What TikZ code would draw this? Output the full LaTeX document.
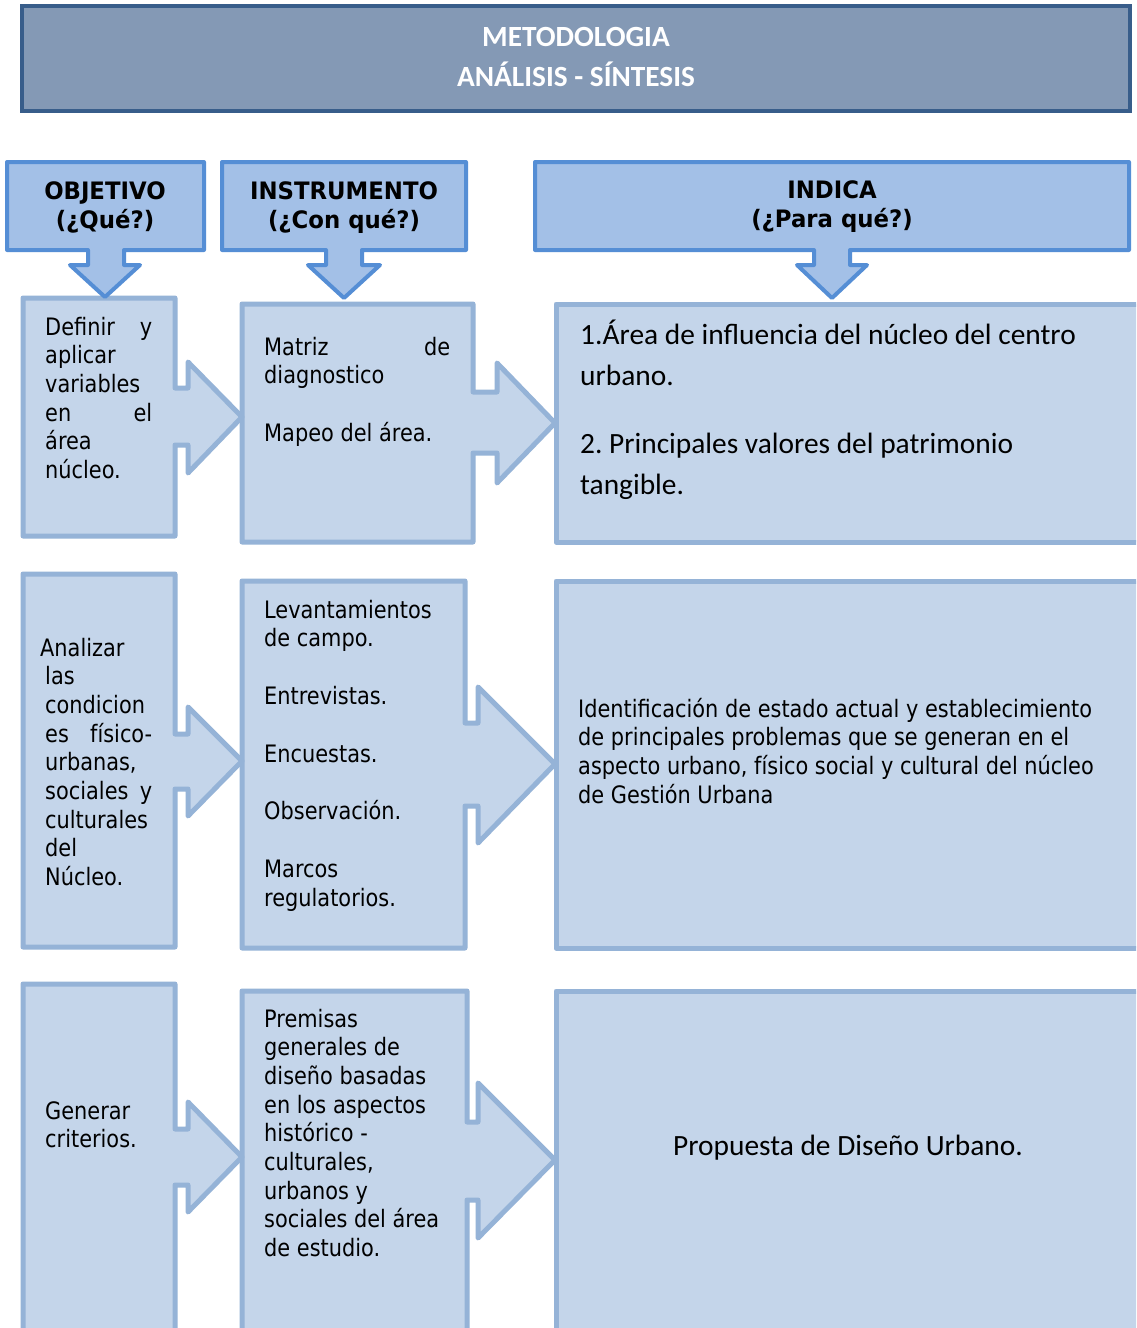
\documentclass[tikz,border=0pt]{standalone}
\usepackage{fontspec}
\setmainfont[FakeStretch=0.87]{DejaVu Sans}
\newfontfamily\capfont[FakeStretch=0.95]{DejaVu Sans}
\newfontfamily\calib{Carlito}
\definecolor{hdrfill}{HTML}{8499B5}
\definecolor{hdrline}{HTML}{385D8A}
\definecolor{capfill}{HTML}{A3C0E7}
\definecolor{capline}{HTML}{558ED5}
\definecolor{boxfill}{HTML}{C4D5EA}
\definecolor{boxline}{HTML}{95B3D7}
\frenchspacing
\newcommand\bodyfont{\fontsize{24}{28.7}\selectfont}
\newcommand\calfont{\calib\fontsize{29.4}{41}\selectfont}
\newcommand\blk[2]{\parbox[t]{#1}{\raggedright #2}}
\begin{document}
\begin{tikzpicture}[x=1pt,y=-1pt,
  hdr/.style={fill=hdrfill,draw=hdrline,line width=4.5pt},
  callout/.style={fill=capfill,draw=capline,line width=4pt,line join=round},
  stage/.style={fill=boxfill,draw=boxline,line width=5pt,line join=round},
  txt/.style={inner sep=0pt,font=\bodyfont,text=black},
  captxt/.style={inner sep=0pt,font=\capfont\bfseries\fontsize{24}{28.7}\selectfont,text=black,anchor=base},
  caltxt/.style={inner sep=0pt,font=\calfont,text=black}]
\useasboundingbox (0,0) rectangle (1136,1328);
\clip (0,0) rectangle (1136,1328);
\fill[white] (0,0) rectangle (1136,1328);

% header
\draw[hdr] (22,6) rectangle (1130,111);
\node[inner sep=0pt,anchor=base,text=white,font=\calib\bfseries\fontsize{29.3}{40}\selectfont] (h1) at (576,46) {METODOLOGIA};
\node[inner sep=0pt,anchor=base,text=white,font=\calib\bfseries\fontsize{29.3}{40}\selectfont] (h2) at (576,86) {ANÁLISIS - SÍNTESIS};

% row 3 (bottom)
\draw[stage] (556,991) -- (1150,991) -- (1150,1340) -- (556,1340) -- cycle;
\draw[stage] (242,991) -- (467,991) -- (467,1122) -- (478,1122) -- (478,1083) -- (555,1160) -- (478,1238) -- (478,1200) -- (467,1200) -- (467,1340) -- (242,1340) -- cycle;
\draw[stage] (23,984) -- (175,984) -- (175,1129) -- (188,1129) -- (188,1102) -- (242,1157) -- (188,1212) -- (188,1185) -- (175,1185) -- (175,1340) -- (23,1340) -- cycle;

% row 2
\draw[stage] (556,581) -- (1150,581) -- (1150,948) -- (556,948) -- cycle;
\draw[stage] (242,581) -- (465,581) -- (465,723) -- (478,723) -- (478,687) -- (555,764) -- (478,843) -- (478,806) -- (465,806) -- (465,948) -- (242,948) -- cycle;
\draw[stage] (23,574) -- (175,574) -- (175,734) -- (188,734) -- (188,707) -- (242,761) -- (188,816) -- (188,789) -- (175,789) -- (175,947) -- (23,947) -- cycle;

% row 1
\draw[stage] (556,304) -- (1150,304) -- (1150,542) -- (556,542) -- cycle;
\draw[stage] (242,304) -- (473,304) -- (473,392) -- (497,392) -- (497,363) -- (555,423) -- (497,483) -- (497,453) -- (473,453) -- (473,542) -- (242,542) -- cycle;
\draw[stage] (23,298) -- (175,298) -- (175,388) -- (188,388) -- (188,362) -- (242,417) -- (188,473) -- (188,445) -- (175,445) -- (175,536) -- (23,536) -- cycle;

% column headers (down-arrow callouts)
\draw[callout] (7,162) -- (204,162) -- (204,250) -- (124,250) -- (124,265) -- (140,265) -- (105,297) -- (70,265) -- (88,265) -- (88,250) -- (7,250) -- cycle;
\draw[callout] (222,162) -- (466,162) -- (466,250) -- (362,250) -- (362,265) -- (380,265) -- (344,298) -- (308,265) -- (326,265) -- (326,250) -- (222,250) -- cycle;
\draw[callout] (535,162) -- (1129,162) -- (1129,250) -- (850,250) -- (850,265) -- (867,265) -- (832,298) -- (797,265) -- (814,265) -- (814,250) -- (535,250) -- cycle;

\node[captxt] (o1) at (105,199) {OBJETIVO};
\node[captxt] (o2) at (105,228) {(¿Qué?)};
\node[captxt] (i1) at (344,199) {INSTRUMENTO};
\node[captxt] (i2) at (344,228) {(¿Con qué?)};
\node[captxt] (p1) at (832,198) {INDICA};
\node[captxt] (p2) at (832,227) {(¿Para qué?)};

% row 1 texts
\node[txt,anchor=base west] (a1) at (45,335) {\blk{107pt}{Definir\hfill y\\aplicar\\variables\\en\hfill el\\área\\núcleo.}};
\node[txt,anchor=base west] (b1) at (264,355) {\blk{186pt}{Matriz\hfill de\\diagnostico\\[28.7pt]Mapeo del área.}};
\node[caltxt,anchor=base west] (c1) at (580,344) {\blk{545pt}{1.Área de influencia del núcleo del centro\\urbano.\\[27pt]2. Principales valores del patrimonio\\tangible.}};

% row 2 texts
\node[txt,anchor=base west] (a2) at (45,656) {\blk{107pt}{\hspace*{-5pt}Analizar\\las\\condicion\\es\hfill físico-\\urbanas,\\sociales\hfill y\\culturales\\del\\Núcleo.}};
\node[txt,anchor=base west] (b2) at (264,618) {\blk{190pt}{Levantamientos\\de campo.\\[29pt]Entrevistas.\\[29pt]Encuestas.\\[29pt]Observación.\\[29pt]Marcos\\regulatorios.}};
\node[txt,anchor=base west] (c2) at (578,717) {\blk{540pt}{Identificación de estado actual y establecimiento\\de principales problemas que se generan en el\\aspecto urbano, físico social y cultural del núcleo\\de Gestión Urbana}};

% row 3 texts
\node[txt,anchor=base west] (a3) at (45,1119) {\blk{120pt}{Generar\\criterios.}};
\node[txt,anchor=base west] (b3) at (264,1027) {\blk{195pt}{Premisas\\generales de\\diseño basadas\\en los aspectos\\histórico -\\culturales,\\urbanos y\\sociales del área\\de estudio.}};
\node[caltxt,anchor=base] (c3) at (848,1155) {Propuesta de Diseño Urbano.};
\end{tikzpicture}
\end{document}
